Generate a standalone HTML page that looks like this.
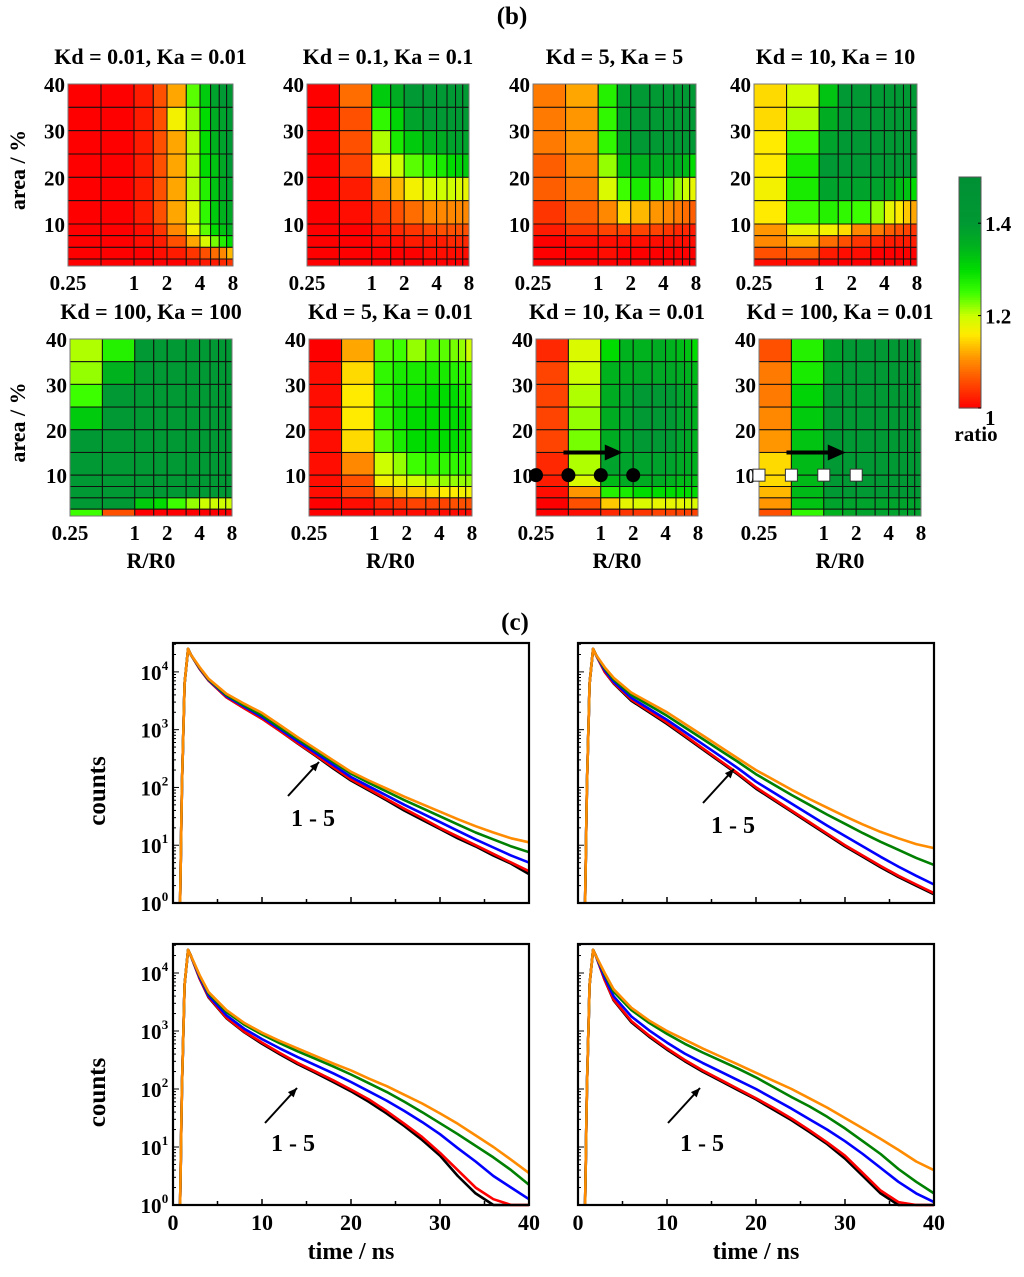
<!DOCTYPE html>
<html><head><meta charset="utf-8"><style>
html,body{margin:0;padding:0;background:#fff;}
svg{display:block;font-family:"Liberation Serif",serif;font-weight:bold;}
</style></head><body>
<svg id="fig" width="1024" height="1277" viewBox="0 0 1024 1277" xmlns="http://www.w3.org/2000/svg">
<rect width="1024" height="1277" fill="#fff"/>
<text x="512" y="24" font-size="25" text-anchor="middle">(b)</text>
<text x="515" y="630" font-size="25" text-anchor="middle">(c)</text>
<g id="hm"></g>
<g id="cb"></g>
<g id="dc"></g>
</svg>
<script>
const NS="http://www.w3.org/2000/svg";
function mk(tag,attrs,parent,txt){const e=document.createElementNS(NS,tag);for(const k in attrs)e.setAttribute(k,attrs[k]);if(txt!==undefined)e.textContent=txt;parent.appendChild(e);return e;}

// ---------- heatmap data ----------
const colEdges=[0.25,0.5,1,1.5,2,3,4,5,6,7,8];
const rowEdges=[40,35,30,25,20,15,10,7.5,5,2.5,1];
const xTickVals=[0.25,1,2,4,8];
const xTickLabels=["0.25","1","2","4","8"];
const yTickVals=[10,20,30,40];
const hmTitles=["Kd = 0.01, Ka = 0.01","Kd = 0.1, Ka = 0.1","Kd = 5, Ka = 5","Kd = 10, Ka = 10","Kd = 100, Ka = 100","Kd = 5, Ka = 0.01","Kd = 10, Ka = 0.01","Kd = 100, Ka  = 0.01"];
const hm1=[
[1,1,1.02,1.06,1.12,1.24,1.32,1.38,1.4,1.42],
[1,1,1.02,1.06,1.17,1.22,1.3,1.36,1.38,1.4],
[1,1,1.02,1.06,1.12,1.21,1.3,1.35,1.38,1.4],
[1,1,1.02,1.06,1.12,1.21,1.3,1.33,1.37,1.4],
[1,1,1.02,1.06,1.12,1.21,1.27,1.33,1.36,1.38],
[1,1,1.02,1.06,1.12,1.19,1.26,1.32,1.35,1.37],
[1,1,1.01,1.04,1.1,1.17,1.24,1.3,1.33,1.35],
[1,1,1.01,1.02,1.06,1.12,1.19,1.23,1.27,1.3],
[1,1,1,1.01,1.02,1.04,1.06,1.08,1.1,1.13],
[1,1,1,1,1,1.01,1.02,1.02,1.03,1.04]];
const hm2=[
[1,1.08,1.32,1.36,1.4,1.4,1.4,1.4,1.4,1.4],
[1,1.06,1.26,1.31,1.38,1.4,1.4,1.4,1.4,1.4],
[1,1.06,1.21,1.28,1.32,1.35,1.36,1.38,1.38,1.38],
[1,1.05,1.17,1.2,1.24,1.26,1.28,1.3,1.31,1.32],
[1,1.02,1.1,1.13,1.17,1.19,1.2,1.2,1.19,1.18],
[1,1.01,1.04,1.06,1.08,1.1,1.1,1.1,1.1,1.1],
[1,1,1.02,1.03,1.04,1.05,1.06,1.06,1.06,1.06],
[1,1,1.01,1.01,1.02,1.02,1.02,1.03,1.03,1.03],
[1,1,1,1,1,1.01,1.01,1.01,1.01,1.01],
[1,1,1,1,1,1,1,1,1,1]];
const hm3=[
[1.09,1.12,1.27,1.38,1.4,1.4,1.4,1.4,1.4,1.4],
[1.09,1.11,1.26,1.38,1.4,1.4,1.4,1.4,1.4,1.4],
[1.09,1.11,1.26,1.37,1.4,1.4,1.4,1.4,1.4,1.4],
[1.07,1.1,1.22,1.33,1.35,1.36,1.36,1.36,1.34,1.3],
[1.07,1.09,1.19,1.25,1.28,1.26,1.24,1.22,1.2,1.18],
[1.04,1.07,1.1,1.15,1.13,1.11,1.1,1.09,1.08,1.07],
[1.02,1.04,1.05,1.05,1.05,1.05,1.04,1.03,1.03,1.02],
[1,1.01,1.01,1.01,1.01,1.01,1.01,1.01,1.01,1.01],
[1,1,1.01,1,1,1,1,1,1,1],
[1,1,1,1,1,1,1,1,1,1]];
const hm4=[
[1.15,1.2,1.33,1.4,1.4,1.4,1.4,1.4,1.4,1.4],
[1.15,1.21,1.36,1.4,1.4,1.4,1.4,1.4,1.4,1.4],
[1.16,1.25,1.38,1.4,1.4,1.4,1.4,1.4,1.4,1.4],
[1.16,1.28,1.4,1.4,1.4,1.4,1.4,1.4,1.4,1.4],
[1.17,1.28,1.38,1.38,1.38,1.38,1.37,1.34,1.33,1.3],
[1.16,1.25,1.27,1.26,1.25,1.22,1.18,1.16,1.14,1.12],
[1.11,1.18,1.17,1.15,1.1,1.09,1.07,1.06,1.05,1.04],
[1.1,1.13,1.08,1.06,1.04,1.03,1.02,1.02,1.02,1.02],
[1.06,1.07,1.02,1.01,1.01,1,1,1,1,1],
[1.01,1.01,1,1,1,1,1,1,1,1]];
const hm5=[
[1.21,1.27,1.4,1.4,1.4,1.4,1.4,1.4,1.4,1.4],
[1.22,1.35,1.4,1.4,1.4,1.4,1.4,1.4,1.4,1.4],
[1.25,1.4,1.4,1.4,1.4,1.4,1.4,1.4,1.4,1.4],
[1.32,1.4,1.4,1.4,1.4,1.4,1.4,1.4,1.4,1.4],
[1.4,1.4,1.4,1.4,1.4,1.4,1.4,1.4,1.4,1.4],
[1.4,1.4,1.4,1.4,1.4,1.4,1.4,1.4,1.4,1.4],
[1.4,1.4,1.4,1.4,1.4,1.4,1.4,1.4,1.4,1.4],
[1.4,1.4,1.4,1.4,1.4,1.4,1.4,1.4,1.4,1.4],
[1.4,1.4,1.32,1.3,1.25,1.22,1.2,1.2,1.2,1.2],
[1.25,1.06,1,1,1,1,1,1,1,1]];
const hm6=[
[1,1.12,1.24,1.25,1.22,1.24,1.24,1.23,1.22,1.2],
[1.01,1.15,1.26,1.28,1.28,1.28,1.28,1.27,1.26,1.25],
[1.01,1.16,1.26,1.29,1.29,1.3,1.3,1.3,1.28,1.27],
[1.01,1.16,1.26,1.29,1.3,1.3,1.3,1.3,1.3,1.28],
[1.01,1.15,1.24,1.28,1.3,1.3,1.3,1.3,1.29,1.28],
[1.01,1.1,1.2,1.22,1.25,1.26,1.26,1.26,1.26,1.25],
[1.01,1.06,1.17,1.18,1.2,1.21,1.22,1.22,1.22,1.22],
[1.01,1.05,1.11,1.13,1.14,1.15,1.16,1.16,1.17,1.17],
[1,1.01,1.03,1.04,1.05,1.05,1.05,1.06,1.06,1.06],
[1,1,1.01,1.01,1.01,1.01,1.01,1.01,1.01,1.01]];
const hm7=[
[1.03,1.19,1.3,1.35,1.35,1.36,1.35,1.34,1.33,1.3],
[1.05,1.2,1.35,1.36,1.37,1.37,1.37,1.36,1.35,1.34],
[1.05,1.21,1.36,1.38,1.4,1.4,1.4,1.38,1.37,1.35],
[1.05,1.22,1.36,1.38,1.4,1.4,1.4,1.38,1.37,1.35],
[1.05,1.23,1.36,1.38,1.4,1.4,1.4,1.38,1.37,1.35],
[1.03,1.21,1.38,1.38,1.38,1.38,1.38,1.37,1.36,1.35],
[1.02,1.19,1.34,1.36,1.36,1.36,1.35,1.34,1.34,1.33],
[1.01,1.11,1.27,1.28,1.3,1.3,1.3,1.3,1.3,1.3],
[1,1.06,1.14,1.18,1.19,1.18,1.18,1.18,1.19,1.19],
[1,1.01,1.03,1.04,1.04,1.05,1.05,1.05,1.05,1.05]];
const hm8=[
[1.06,1.27,1.38,1.4,1.4,1.4,1.4,1.4,1.4,1.4],
[1.09,1.28,1.38,1.4,1.4,1.4,1.4,1.4,1.4,1.4],
[1.09,1.31,1.4,1.4,1.4,1.4,1.4,1.4,1.4,1.4],
[1.1,1.32,1.4,1.4,1.4,1.4,1.4,1.4,1.4,1.4],
[1.11,1.33,1.4,1.4,1.4,1.4,1.4,1.4,1.4,1.4],
[1.15,1.34,1.4,1.4,1.4,1.4,1.4,1.4,1.4,1.4],
[1.15,1.34,1.4,1.4,1.4,1.4,1.4,1.4,1.4,1.4],
[1.13,1.34,1.4,1.4,1.4,1.4,1.4,1.4,1.4,1.4],
[1.11,1.33,1.38,1.38,1.38,1.38,1.38,1.38,1.38,1.38],
[1.06,1.26,1.35,1.37,1.38,1.38,1.38,1.38,1.38,1.38]];
const markerX=[0.25,0.5,1,2];
const markerY=10;
const arrowFrom=[0.45,15], arrowTo=[1.6,15];
const cbTickVals=[1,1.2,1.4];
const cbTickLabels=["1","1.2","1.4"];

const stops=[[1.0,[255,0,0]],[1.06,[255,80,0]],[1.11,[255,150,0]],[1.16,[255,235,0]],[1.2,[205,255,0]],[1.25,[60,255,0]],[1.3,[0,220,0]],[1.35,[0,178,30]],[1.4,[0,153,51]],[1.5,[0,144,53]]];
function cmap(v){if(v<=stops[0][0])return "rgb("+stops[0][1]+")";for(let i=1;i<stops.length;i++){if(v<=stops[i][0]){const a=stops[i-1],b=stops[i],t=(v-a[0])/(b[0]-a[0]);return "rgb("+a[1].map((c,k)=>Math.round(c+(b[1][k]-c)*t)).join(",")+")";}}return "rgb("+stops[stops.length-1][1]+")";}

const hmData=[hm1,hm2,hm3,hm4,hm5,hm6,hm7,hm8];
const geo=[[68,233,84,266],[307,469,84,266],[533,696,84,266],[754,917,84,266],[70,232,339,516],[309,472,339,516],[536,698,339,516],[759,921,339,516]];
const hmG=document.getElementById('hm');
hmData.forEach((d,p)=>{
  const [x0,x1,y0,y1]=geo[p];
  const sx=v=>x0+(Math.log2(v)-Math.log2(0.25))/5*(x1-x0);
  const sy=v=>y1-(v-1)/39*(y1-y0);
  const g=mk('g',{},hmG);
  
  
  const t=mk('text',{x:(x0+x1)/2,y:y0-20,'font-size':22,'text-anchor':'middle'},g,hmTitles[p]);
  
  
  for(let r=0;r<10;r++)for(let c=0;c<10;c++){
    const xa=sx(colEdges[c]),xb=sx(colEdges[c+1]),ya=sy(rowEdges[r]),yb=sy(rowEdges[r+1]);
    const cell=mk('rect',{x:xa,y:ya,width:xb-xa,height:yb-ya,fill:cmap(d[r][c]),stroke:'#111','stroke-width':1},g);
    
    
  }
  mk('rect',{x:x0,y:y0,width:x1-x0,height:y1-y0,fill:'none',stroke:'#777','stroke-width':1},g);
  xTickVals.forEach((v,i)=>{const tx=mk('text',{x:sx(v),y:y1+24,'font-size':21,'text-anchor':'middle'},g,xTickLabels[i]);
    
    });
  yTickVals.forEach(v=>{const ty=mk('text',{x:x0-3,y:sy(v)+8,'font-size':21,'text-anchor':'end'},g,String(v));
    
    });
  if(p>=4){const xl=mk('text',{x:(x0+x1)/2,y:y1+52,'font-size':22,'text-anchor':'middle'},g,'R/R0');
    
    }
  if(p===0||p===4){const yl=mk('text',{x:0,y:0,'font-size':22,'text-anchor':'middle',transform:`translate(25,${(y0+y1)/2-5}) rotate(-90)`},g,'area / %');
    
    }
  if(p===6||p===7){
    const ar=mk('line',{x1:sx(arrowFrom[0]),y1:sy(arrowFrom[1]),x2:sx(arrowTo[0])-14,y2:sy(arrowTo[1]),stroke:'#000','stroke-width':4},g);
    
    
    const ax=sx(arrowTo[0]),ay=sy(arrowTo[1]);
    mk('polygon',{points:`${ax-18},${ay-8} ${ax},${ay} ${ax-18},${ay+8}`,fill:'#000'},g);
    markerX.forEach(v=>{
      const m=p===6?mk('circle',{cx:sx(v),cy:sy(markerY),r:7,fill:'#000'},g):mk('rect',{x:sx(v)-6,y:sy(markerY)-6,width:12,height:12,fill:'#fff',stroke:'#333','stroke-width':1},g);
      
      
    });
  }
});
// colorbar
const cbG=document.getElementById('cb');


{const x0=959,x1=981,y0=177,y1=408;const sv=v=>y1-(v-1)/0.5*(y1-y0);
 for(let i=0;i<100;i++){const v=1+i*0.005;mk('rect',{x:x0,y:sv(v+0.005),width:x1-x0,height:(y1-y0)/100+0.6,fill:cmap(v+0.0025)},cbG);}
 mk('rect',{x:x0,y:y0,width:x1-x0,height:y1-y0,fill:'none',stroke:'#555','stroke-width':1},cbG);
 cbTickVals.forEach((v,i)=>{mk('line',{x1:x1-3,x2:x1,y1:sv(v),y2:sv(v),stroke:'#000'},cbG);
   const tl=mk('text',{x:x1+4,y:sv(v)+(i===0?17:8),'font-size':21},cbG,cbTickLabels[i]);
   
   });
 const rl=mk('text',{x:976,y:441,'font-size':21,'text-anchor':'middle'},cbG,'ratio');
 
 
}

// ---------- decay data ----------
const times=[0.8,1.0,1.3,1.7,2,3,4,6,8,10,12,14,16,18,20,22,24,26,28,30,32,34,36,38,40];
const rise=[0,2.0,3.8,4.4,4.3];
const seriesColors=["#000000","#ff0000","#0000ff","#008000","#ff8c00"];
const tlBlack=[4.05,3.85,3.56,3.37,3.19,2.98,2.76,2.55,2.33,2.12,1.95,1.78,1.6,1.44,1.28,1.12,0.98,0.82,0.68,0.5];
const tlRed=[4.05,3.85,3.56,3.37,3.19,2.98,2.77,2.56,2.35,2.14,1.97,1.8,1.63,1.47,1.3,1.15,1.0,0.85,0.7,0.55];
const tlBlue=[4.06,3.86,3.58,3.4,3.22,3.01,2.8,2.6,2.39,2.18,2.02,1.86,1.7,1.55,1.4,1.25,1.1,0.96,0.82,0.7];
const tlGreen=[4.07,3.87,3.6,3.42,3.25,3.04,2.84,2.64,2.44,2.24,2.08,1.93,1.78,1.64,1.5,1.36,1.22,1.1,0.98,0.88];
const tlOrange=[4.08,3.88,3.62,3.45,3.29,3.08,2.87,2.67,2.47,2.27,2.12,1.98,1.84,1.71,1.58,1.45,1.33,1.22,1.12,1.05];
const trBlack=[4.0,3.8,3.5,3.3,3.1,2.88,2.66,2.44,2.22,1.98,1.78,1.58,1.38,1.18,0.98,0.8,0.62,0.45,0.3,0.15];
const trRed=[4.0,3.81,3.52,3.32,3.12,2.9,2.68,2.46,2.24,2.0,1.8,1.6,1.4,1.2,1.0,0.82,0.64,0.47,0.32,0.17];
const trBlue=[4.03,3.83,3.55,3.36,3.17,2.96,2.75,2.54,2.33,2.1,1.91,1.72,1.53,1.34,1.16,0.98,0.8,0.63,0.47,0.32];
const trGreen=[4.06,3.87,3.6,3.42,3.24,3.04,2.84,2.64,2.44,2.23,2.05,1.87,1.7,1.53,1.37,1.21,1.06,0.92,0.78,0.66];
const trOrange=[4.08,3.9,3.64,3.47,3.3,3.1,2.9,2.7,2.5,2.3,2.13,1.96,1.8,1.65,1.5,1.36,1.23,1.12,1.02,0.95];
const blBlack=[3.9,3.58,3.22,2.98,2.78,2.6,2.43,2.28,2.12,1.96,1.78,1.58,1.36,1.12,0.85,0.5,0.2,0,0,0];
const blRed=[3.9,3.59,3.23,2.99,2.8,2.62,2.45,2.3,2.15,1.99,1.82,1.62,1.4,1.17,0.9,0.6,0.3,0.1,0,0];
const blBlue=[3.92,3.61,3.27,3.04,2.86,2.7,2.55,2.41,2.27,2.12,1.96,1.8,1.62,1.43,1.22,0.98,0.75,0.5,0.3,0.1];
const blGreen=[3.95,3.65,3.33,3.11,2.94,2.79,2.65,2.52,2.39,2.25,2.1,1.95,1.78,1.6,1.41,1.22,1.02,0.82,0.6,0.35];
const blOrange=[3.96,3.67,3.36,3.14,2.97,2.83,2.7,2.57,2.44,2.32,2.18,2.05,1.9,1.75,1.58,1.4,1.2,1.0,0.78,0.55];
const brBlack=[3.88,3.53,3.15,2.9,2.68,2.48,2.3,2.14,1.98,1.82,1.64,1.46,1.26,1.05,0.8,0.5,0.2,0,0,0];
const brRed=[3.88,3.54,3.17,2.92,2.7,2.5,2.32,2.16,2.0,1.84,1.67,1.49,1.29,1.08,0.85,0.55,0.25,0.05,0,0];
const brBlue=[3.92,3.6,3.25,3.01,2.8,2.61,2.45,2.3,2.15,2.0,1.83,1.66,1.48,1.3,1.1,0.88,0.64,0.4,0.2,0.05];
const brGreen=[3.98,3.68,3.36,3.14,2.95,2.78,2.63,2.49,2.35,2.2,2.03,1.86,1.7,1.52,1.32,1.1,0.88,0.62,0.4,0.2];
const brOrange=[4.0,3.72,3.4,3.18,3.0,2.85,2.7,2.56,2.42,2.28,2.14,2.0,1.84,1.68,1.5,1.32,1.14,0.95,0.75,0.6];
const decayPanels=[[tlBlack,tlRed,tlBlue,tlGreen,tlOrange],[trBlack,trRed,trBlue,trGreen,trOrange],[blBlack,blRed,blBlue,blGreen,blOrange],[brBlack,brRed,brBlue,brGreen,brOrange]];
const xTicksD=[0,10,20,30,40];
const yDecades=[0,1,2,3,4];
const dGeo=[[173,529,643,903],[578,934,643,903],[173,529,944,1205],[578,934,944,1205]];
const arrowsD=[[288,796,319,762,313,826],[703,803,734,769,733,833],[265,1123,297,1088,293,1151],[668,1123,700,1088,702,1151]];
const dcG=document.getElementById('dc');
decayPanels.forEach((ser,p)=>{
  const [x0,x1,y0,y1]=dGeo[p];
  const sx=t=>x0+t/40*(x1-x0), sy=l=>y1-l/4.5*(y1-y0);
  const g=mk('g',{},dcG);
  
  
  ser.forEach((s,k)=>{
    const vals=rise.concat(s);
    const pts=times.map((t,i)=>sx(t).toFixed(1)+','+sy(Math.max(0,vals[i])).toFixed(1)).join(' ');
    const pl=mk('polyline',{points:pts,fill:'none',stroke:seriesColors[k],'stroke-width':2.6,'stroke-linejoin':'round'},g);
    
    
  });
  mk('rect',{x:x0,y:y0,width:x1-x0,height:y1-y0,fill:'none',stroke:'#000','stroke-width':2.2},g);
  for(let t=0;t<=40;t+=5){const L=t%10===0?6:4;mk('line',{x1:sx(t),x2:sx(t),y1:y1,y2:y1-L,stroke:'#000','stroke-width':1.5},g);}
  for(let dd=0;dd<5;dd++)for(let m=1;m<10;m++){const l=dd+Math.log10(m);if(l>4.5)continue;const L=m===1?6:3;mk('line',{x1:x0,x2:x0+L,y1:sy(l),y2:sy(l),stroke:'#000','stroke-width':1},g);}
  if(p>=2){
    xTicksD.forEach(t=>{const tl=mk('text',{x:sx(t),y:y1+25,'font-size':22,'text-anchor':'middle'},g,String(t));
      
      });
    const xt=mk('text',{x:(x0+x1)/2,y:y1+54,'font-size':24,'text-anchor':'middle'},g,'time / ns');
    
    
  }
  if(p%2===0){
    yDecades.forEach(dd=>{const tl=mk('text',{x:x0-22,y:sy(dd)+8,'font-size':21,'text-anchor':'middle'},g,'10');
      
      
      mk('text',{x:x0-8,y:sy(dd)-2,'font-size':13,'text-anchor':'middle'},g,String(dd));});
    const yt=mk('text',{x:0,y:0,'font-size':25,'text-anchor':'middle',transform:`translate(105,${(y0+y1)/2+18}) rotate(-90)`},g,'counts');
    
    
  }
  const a=arrowsD[p];
  const ar=mk('line',{x1:a[0],y1:a[1],x2:a[2],y2:a[3],stroke:'#000','stroke-width':2},g);
  
  
  const ang=Math.atan2(a[3]-a[1],a[2]-a[0]);
  const hx=a[2],hy=a[3],s=10;
  mk('polygon',{points:`${hx},${hy} ${hx-s*Math.cos(ang-0.4)},${hy-s*Math.sin(ang-0.4)} ${hx-s*Math.cos(ang+0.4)},${hy-s*Math.sin(ang+0.4)}`,fill:'#000'},g);
  const lb=mk('text',{x:a[4],y:a[5],'font-size':24,'text-anchor':'middle'},g,'1 - 5');
  
  
});
</script>
</body></html>
